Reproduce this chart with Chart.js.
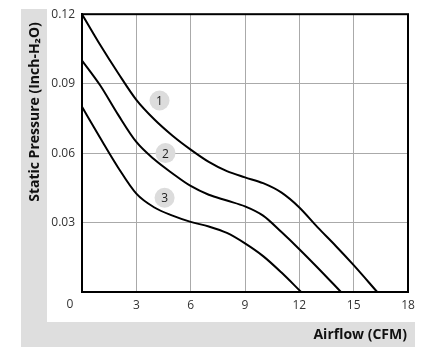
<!DOCTYPE html>
<html>
<head>
<meta charset="utf-8">
<script src="https://cdn.jsdelivr.net/npm/chart.js@4"></script>
<style>
  body { margin: 0; background: #fff; }
</style>
</head>
<body>
<canvas id="fan" width="433" height="360"></canvas>
<script>
// curve data (airflow CFM / static pressure inch-H2O)
const flow1 = [0, 1, 2, 3, 4, 5, 6, 7, 8, 9, 10, 11, 12, 13, 14, 15, 16.3];
const press1 = [0.12, 0.1068, 0.0945, 0.083, 0.0745, 0.0675, 0.0615, 0.0562, 0.0522, 0.0495, 0.047, 0.043, 0.0365, 0.028, 0.020, 0.0116, 0];

const flow2 = [0, 1, 2, 3, 4, 5, 6, 7, 8, 9, 10, 11, 12, 13, 14.3];
const press2 = [0.10, 0.0893, 0.0765, 0.0648, 0.0572, 0.0512, 0.0458, 0.042, 0.0395, 0.037, 0.033, 0.026, 0.0185, 0.0106, 0];

const flow3 = [0, 1, 2, 3, 4, 5, 6, 7, 8, 9, 10, 11, 12.1];
const press3 = [0.08, 0.0666, 0.0537, 0.0425, 0.0365, 0.033, 0.0303, 0.0283, 0.0255, 0.021, 0.0155, 0.0085, 0];

const badgeX = [4.28, 4.61, 4.56];
const badgeY = [0.0827, 0.06, 0.0407];
const badgeText = ['1', '2', '3'];

const xTicks = [0, 3, 6, 9, 12, 15, 18];
const yTicks = [0, 0.03, 0.06, 0.09, 0.12];

const toPts = (xs, ys) => xs.map((x, i) => ({ x: x, y: ys[i] }));

function curve(xs, ys) {
  return {
    data: toPts(xs, ys),
    showLine: true,
    borderColor: '#000',
    borderWidth: 2,
    pointRadius: 0,
    cubicInterpolationMode: 'monotone',
    fill: false
  };
}

const chartDeco = {
  id: 'chartDeco',
  beforeDraw(chart) {
    const c = chart.ctx;
    c.save();
    c.fillStyle = '#fff';
    c.fillRect(0, 0, chart.width, chart.height);
    c.fillStyle = '#dedede';
    c.fillRect(21, 9, 26, 338);
    c.fillRect(21, 322, 394, 25);
    c.restore();
  },
  afterDatasetsDraw(chart) {
    const c = chart.ctx;
    const meta = chart.getDatasetMeta(3);
    c.save();
    c.fillStyle = '#222';
    c.font = '12px "Open Sans", sans-serif';
    c.textAlign = 'center';
    c.textBaseline = 'middle';
    meta.data.forEach((pt, i) => {
      c.fillText(badgeText[i], pt.x, pt.y + 1);
    });
    c.restore();
  },
  afterDraw(chart) {
    const c = chart.ctx;
    const a = chart.chartArea;
    const xs = chart.scales.x;
    c.save();
    c.strokeStyle = '#000';
    c.lineWidth = 2;
    c.strokeRect(a.left, a.top, a.right - a.left, a.bottom - a.top);
    // origin label
    c.fillStyle = '#333';
    c.font = '12px "Open Sans", sans-serif';
    c.textAlign = 'center';
    c.textBaseline = 'middle';
    c.fillText('0', xs.getPixelForValue(0) - 12, a.bottom + 13);
    // axis titles
    c.font = 'bold 14px "Open Sans", sans-serif';
    c.fillStyle = '#111';
    c.textAlign = 'right';
    c.fillText('Airflow (CFM)', 407, 335);
    c.translate(35, 112);
    c.rotate(-Math.PI / 2);
    c.textAlign = 'center';
    c.font = 'bold 14px "Open Sans", sans-serif';
    c.fillText('Static Pressure (Inch-H\u2082O)', 0, 0);
    c.restore();
  }
};

new Chart(document.getElementById('fan'), {
  type: 'scatter',
  data: {
    datasets: [
      curve(flow1, press1),
      curve(flow2, press2),
      curve(flow3, press3),
      {
        data: toPts(badgeX, badgeY),
        pointRadius: 10,
        pointBackgroundColor: '#dcdcdc',
        pointBorderWidth: 0,
        showLine: false
      }
    ]
  },
  options: {
    responsive: false,
    animation: false,
    layout: { padding: { top: 13, right: 25, left: 0, bottom: 0 } },
    plugins: {
      legend: { display: false },
      tooltip: { enabled: false }
    },
    scales: {
      x: {
        type: 'linear',
        min: 0,
        max: 18,
        afterBuildTicks: s => { s.ticks = xTicks.map(v => ({ value: v })); },
        afterFit: s => { s.height = 68; },
        grid: { color: '#aaa', lineWidth: 1, drawTicks: false },
        border: { color: '#000', width: 2 },
        ticks: {
          padding: 6,
          color: '#333',
          font: { family: '"Open Sans", sans-serif', size: 12 },
          callback: v => (v === 0 ? '' : v)
        }
      },
      y: {
        type: 'linear',
        min: 0,
        max: 0.12,
        afterBuildTicks: s => { s.ticks = yTicks.map(v => ({ value: v })); },
        afterFit: s => { s.width = 82; },
        grid: { color: '#aaa', lineWidth: 1, drawTicks: false },
        border: { color: '#000', width: 2 },
        ticks: {
          padding: 7,
          color: '#333',
          font: { family: '"Open Sans", sans-serif', size: 12 },
          callback: v => (v === 0 ? '' : v.toFixed(2))
        }
      }
    }
  },
  plugins: [chartDeco]
});
</script>
</body>
</html>
